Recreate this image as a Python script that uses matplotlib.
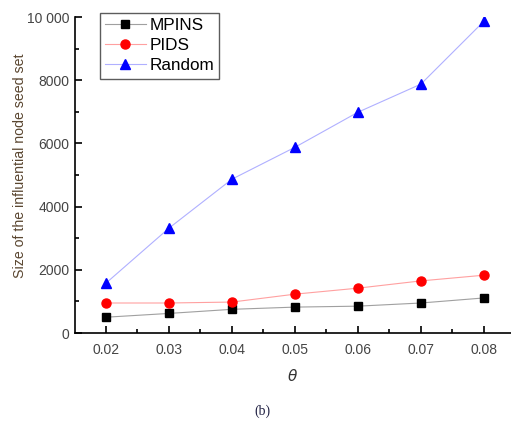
import matplotlib
matplotlib.use("Agg")
from matplotlib import pyplot as plt
from matplotlib.ticker import MultipleLocator

plt.rcParams["font.family"] = ["Liberation Sans", "DejaVu Sans"]

theta = [0.02, 0.03, 0.04, 0.05, 0.06, 0.07, 0.08]
mpins = [500, 620, 750, 820, 850, 950, 1110]
pids = [950, 950, 980, 1230, 1420, 1650, 1830]
random_sel = [1580, 3320, 4870, 5880, 6990, 7880, 9870]

fig = plt.figure(figsize=(5.11, 4.24), dpi=100)
ax = fig.add_axes([0.1468, 0.2146, 0.8532, 0.745])

ax.plot(theta, mpins, color="#a0a0a0", lw=0.8, marker="s", ms=6,
        mfc="black", mec="black", label="MPINS")
ax.plot(theta, pids, color="#ffa0a0", lw=0.8, marker="o", ms=6.5,
        mfc="red", mec="red", label="PIDS")
ax.plot(theta, random_sel, color="#b0b0ff", lw=0.8, marker="^", ms=7,
        mfc="blue", mec="blue", label="Random")

ax.set_xlim(0.01508, 0.0843)
ax.set_ylim(0, 10000)
ax.xaxis.set_minor_locator(MultipleLocator(0.005))
ax.yaxis.set_minor_locator(MultipleLocator(1000))
ax.set_xticks(theta)
ax.set_xticklabels(["0.02", "0.03", "0.04", "0.05", "0.06", "0.07", "0.08"])
ax.set_yticks([0, 2000, 4000, 6000, 8000, 10000])
ax.set_yticklabels(["0", "2000", "4000", "6000", "8000", "10 000"])

for s in ["top", "right"]:
    ax.spines[s].set_visible(False)
for s in ["left", "bottom"]:
    ax.spines[s].set_linewidth(1.2)

ax.tick_params(which="major", direction="in", length=5, width=1.2,
               labelsize=10, labelcolor="#444444")
ax.tick_params(axis="y", which="major", pad=4)
ax.tick_params(axis="x", which="major", pad=7)
ax.tick_params(which="minor", direction="in", length=3, width=1.2)

ax.set_ylabel("Size of the influential node seed set", fontsize=10.2,
              color="#5a4630")
ax.yaxis.set_label_coords(-0.110, 0.53)
ax.set_xlabel(r"$\theta$", fontsize=11, color="#333333", labelpad=8)

leg = ax.legend(loc="upper left", bbox_to_anchor=(0.057, 1.013), fontsize=12.3,
                frameon=True, fancybox=False, edgecolor="#333333",
                handlelength=2.4, borderpad=0.3, labelspacing=0.3,
                handletextpad=0.2, borderaxespad=0.0)
leg.get_frame().set_linewidth(1.0)

fig.text(0.513, 0.022, "(b)", fontsize=10, family="Liberation Serif",
         color="#222244", ha="center")

fig.savefig("out.png", dpi=100)
